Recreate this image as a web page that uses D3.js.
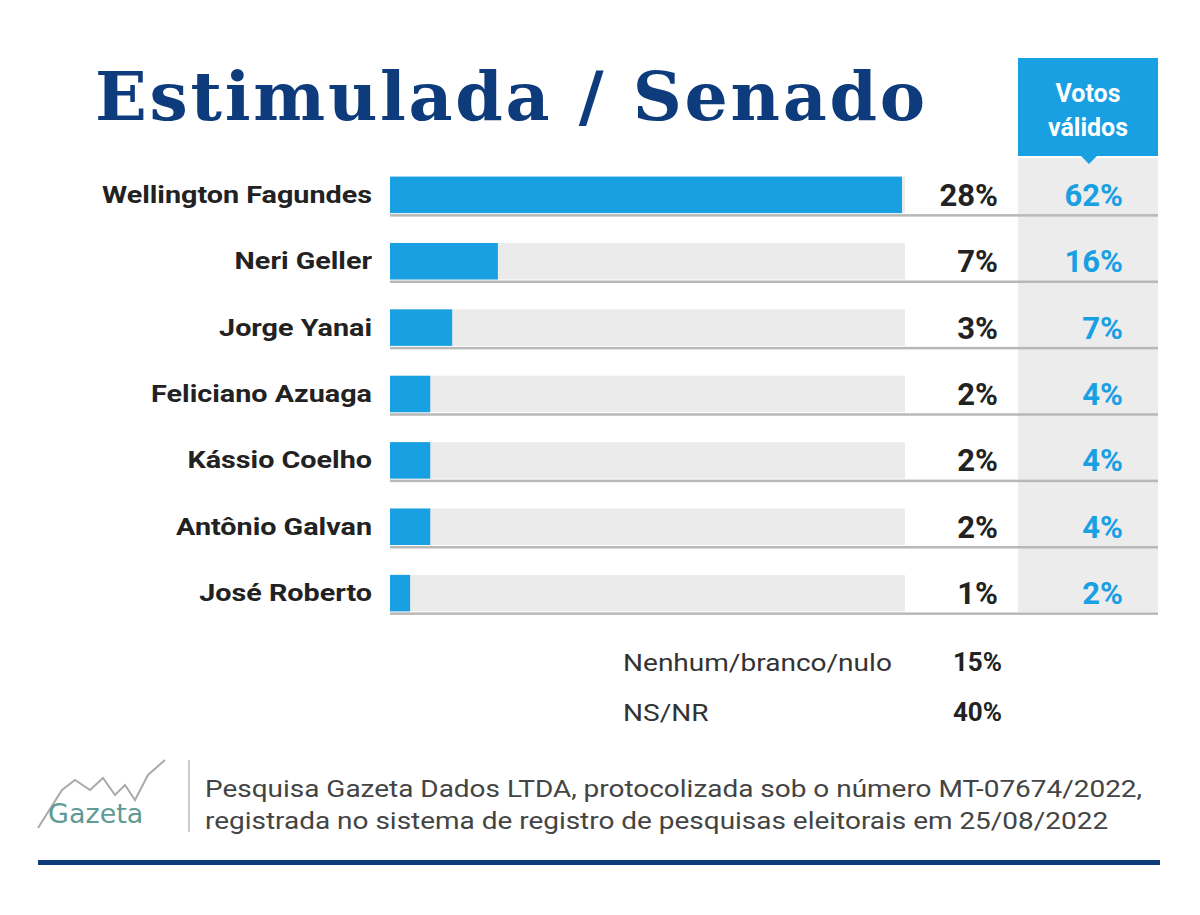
<!DOCTYPE html>
<html><head><meta charset="utf-8">
<script src="https://cdn.jsdelivr.net/npm/d3@7"></script>
<style>body{margin:0;background:#fff}</style>
</head><body>
<svg width="1200" height="915"></svg>
<script>
var candidates = ["Wellington Fagundes","Neri Geller","Jorge Yanai","Feliciano Azuaga","Kássio Coelho","Antônio Galvan","José Roberto"];
var barValues = [28, 5.9, 3.4, 2.2, 2.2, 2.2, 1.1];
var pctLabels = ["28%","7%","3%","2%","2%","2%","1%"];
var validLabels = ["62%","16%","7%","4%","4%","4%","2%"];
var otherNames = ["Nenhum/branco/nulo","NS/NR"];
var otherLabels = ["15%","40%"];

var svg = d3.select("svg");
var blue = "#18a0e3", navy = "#0d3b7c";

var x = d3.scaleLinear().domain([0, 28]).range([390, 902]);
var y = d3.scaleBand().domain(candidates).range([162, 626]).paddingInner(0.45).paddingOuter(0.22);

// wide text helper (the reference font is stretched)
function wide(sel, px, py, sx){
  return sel.append("text").attr("transform","translate("+px+","+py+") scale("+sx+",1)");
}

// valid votes column
svg.append("rect").attr("x",1018).attr("y",158).attr("width",140).attr("height",454).attr("fill","#ececec");
svg.append("rect").attr("x",1018).attr("y",58).attr("width",140).attr("height",98).attr("fill",blue);
svg.append("path").attr("d","M1081,156 L1089,164 L1097,156 Z").attr("fill",blue);
svg.append("text").attr("x",1088).attr("y",102).attr("text-anchor","middle").attr("font-family","Roboto").attr("font-weight","bold").attr("font-size",25).attr("fill","#fff").text("Votos");
svg.append("text").attr("x",1088).attr("y",136).attr("text-anchor","middle").attr("font-family","Roboto").attr("font-weight","bold").attr("font-size",25).attr("fill","#fff").text("válidos");

svg.append("text").attr("x",95).attr("y",120).attr("font-family","DejaVu Serif").attr("font-weight","bold").attr("font-size",68).attr("fill",navy).attr("textLength",830).text("Estimulada / Senado");

var rows = svg.append("g").selectAll("g").data(candidates).join("g");
rows.append("rect").attr("x",390).attr("y",d=>y(d)).attr("width",515).attr("height",y.bandwidth()).attr("fill","#ebebeb");
rows.append("rect").attr("x",390).attr("y",d=>y(d)).attr("width",(d,i)=>x(barValues[i])-390).attr("height",y.bandwidth()).attr("fill",blue);
rows.append("rect").attr("x",390).attr("y",d=>y(d)+y.bandwidth()+1).attr("width",768).attr("height",2.5).attr("fill","#b8b8b8");
rows.each(function(d){
  wide(d3.select(this), 372, y(d)+y.bandwidth()/2+8, 1.25).attr("text-anchor","end").attr("font-family","Roboto").attr("font-weight","bold").attr("font-size",23).attr("fill","#222").text(d);
});
rows.append("text").attr("x",998).attr("y",d=>y(d)+y.bandwidth()/2+11).attr("text-anchor","end").attr("font-family","Roboto").attr("font-weight","bold").attr("font-size",31).attr("fill","#222").text((d,i)=>pctLabels[i]);
rows.append("text").attr("x",1123).attr("y",d=>y(d)+y.bandwidth()/2+11).attr("text-anchor","end").attr("font-family","Roboto").attr("font-weight","bold").attr("font-size",31).attr("fill",blue).text((d,i)=>validLabels[i]);

otherNames.forEach(function(n,i){
  wide(svg, 623, 671+i*50, 1.22).attr("font-family","Roboto").attr("font-size",23).attr("fill","#333").text(n);
  svg.append("text").attr("x",1002).attr("y",671+i*50).attr("text-anchor","end").attr("font-family","Roboto").attr("font-weight","bold").attr("font-size",26).attr("fill","#222").text(otherLabels[i]);
});

// logo
svg.append("path").attr("d","M38,828 L62,790 L75,780 L90,790 L103,778 L115,795 L125,785 L135,800 L148,775 L165,760").attr("fill","none").attr("stroke","#aaa").attr("stroke-width",2);
svg.append("text").attr("x",48).attr("y",823).attr("font-family","DejaVu Sans").attr("font-size",27).attr("fill","#5f9a94").text("Gazeta");
svg.append("rect").attr("x",188).attr("y",760).attr("width",2).attr("height",72).attr("fill","#ccc");
wide(svg, 205, 797, 1.19).attr("font-family","Roboto").attr("font-size",23.5).attr("fill","#444").text("Pesquisa Gazeta Dados LTDA, protocolizada sob o número MT-07674/2022,");
wide(svg, 205, 829, 1.19).attr("font-family","Roboto").attr("font-size",23.5).attr("fill","#444").text("registrada no sistema de registro de pesquisas eleitorais em 25/08/2022");
svg.append("rect").attr("x",38).attr("y",860).attr("width",1122).attr("height",5).attr("fill",navy);
</script>
</body></html>
